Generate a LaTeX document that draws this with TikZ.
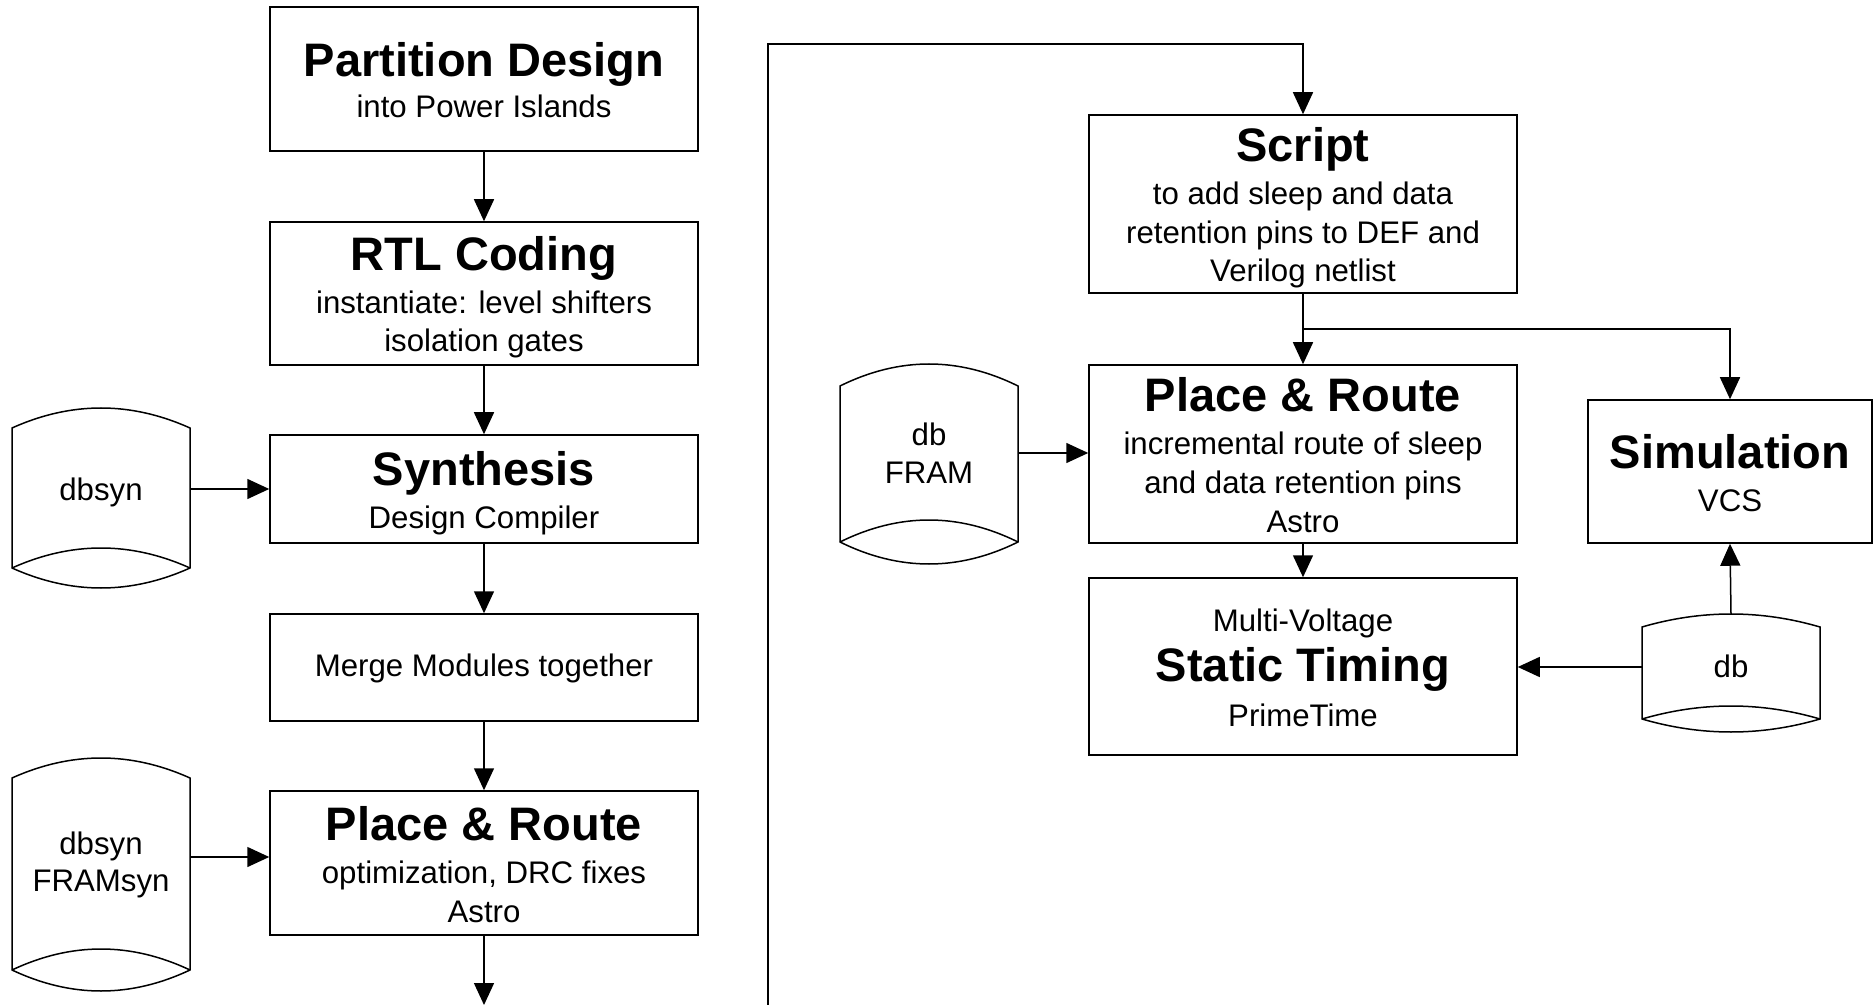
\documentclass[tikz,border=0pt]{standalone}
\usepackage{fontspec}
\setmainfont{Liberation Sans}
\usetikzlibrary{arrows.meta}

% Drum (database) outline: left, right, top peak, side top, side bottom, lens depth
\newcommand\drumpath[6]{%
  \draw[drum] (#1,#4) -- (#1,#5)
    .. controls ({#1+(#2-#1)/3},{#5+4*#6/3}) and ({#2-(#2-#1)/3},{#5+4*#6/3}) .. (#2,#5)
    -- (#2,#4)
    .. controls ({#2-(#2-#1)/3},{#4-4*(#4-#3)/3}) and ({#1+(#2-#1)/3},{#4-4*(#4-#3)/3}) .. cycle;
  \draw[drum] (#1,#5)
    .. controls ({#1+(#2-#1)/3},{#5-4*#6/3}) and ({#2-(#2-#1)/3},{#5-4*#6/3}) .. (#2,#5);}

\begin{document}
\begin{tikzpicture}[x=0.5pt,y=-0.5pt,
  box/.style={draw, line width=0.75pt, inner sep=0pt, minimum width=214pt},
  ttl/.style={anchor=base, inner sep=0pt, font=\fontsize{23.5pt}{28pt}\selectfont\bfseries},
  sub/.style={anchor=base, inner sep=0pt, font=\fontsize{15.6pt}{19pt}\selectfont},
  flow/.style={line width=0.75pt, -{Triangle[length=11pt,width=10pt]}},
  drum/.style={line width=0.75pt}]
\useasboundingbox (0,0) rectangle (1874,1005);

% ---- left column ----
\node[box, minimum height=72pt]   (part)  at (484,79)    {};
\node[ttl] (partT)  at (484,77)    {Partition Design};
\node[sub] (partS)  at (484,118)   {into Power Islands};

\node[box, minimum height=71.5pt] (rtl)   at (484,293.5) {};
\node[ttl] (rtlT)   at (484,270.5) {RTL Coding};
\node[sub] (rtlS1)  at (484,313.5) {instantiate: level shifters};
\node[sub] (rtlS2)  at (484,351.5) {isolation gates};

\node[box, minimum height=54pt]   (syn)   at (484,489)   {};
\node[ttl] (synT)   at (484,486)   {Synthesis};
\node[sub] (synS)   at (484,528)   {Design Compiler};

\node[box, minimum height=53.5pt] (merge) at (484,667.5) {};
\node[sub] (mergeS) at (484,676.5) {Merge Modules together};

\node[box, minimum height=72pt]   (pr)    at (484,863)   {};
\node[ttl] (prT)    at (484,840)   {Place \& Route};
\node[sub] (prS1)   at (484,883)   {optimization, DRC fixes};
\node[sub] (prS2)   at (484,922)   {Astro};

% ---- right column ----
\node[box, minimum height=89pt]   (script) at (1303,204) {};
\node[ttl] (scrT)   at (1303,162)  {Script};
\node[sub] (scrS1)  at (1303,205)  {to add sleep and data};
\node[sub] (scrS2)  at (1303,244)  {retention pins to DEF and};
\node[sub] (scrS3)  at (1303,282)  {Verilog netlist};

\node[box, minimum height=89pt]   (pr2)   at (1303,454)  {};
\node[ttl] (pr2T)   at (1303,412)  {Place \& Route};
\node[sub] (pr2S1)  at (1303,455)  {incremental route of sleep};
\node[sub] (pr2S2)  at (1303,494)  {and data retention pins};
\node[sub] (pr2S3)  at (1303,532)  {Astro};

\node[box, minimum height=88.5pt] (sta)   at (1303,666.5) {};
\node[sub] (staS1)  at (1303,631)  {Multi-Voltage};
\node[ttl] (staT)   at (1303,681)  {Static Timing};
\node[sub] (staS2)  at (1303,726)  {PrimeTime};

\node[box, minimum width=142pt, minimum height=71.5pt] (sim) at (1730,471.5) {};
\node[ttl] (simT)   at (1730,469)  {Simulation};
\node[sub] (simS)   at (1730,511)  {VCS};

% ---- databases ----
\drumpath{12}{190}{408}{428}{568}{20}
\node[sub] (dbsyn) at (101,501) {dbsyn};
\coordinate (dbsynR) at (190,489);

\drumpath{12}{190}{758}{778}{970}{21}
\node[sub] (dbsyn2) at (101,854) {dbsyn};
\node[sub] (framsyn) at (101,891) {FRAMsyn};
\coordinate (framsynR) at (190,857);

\drumpath{840}{1018}{364}{386}{542}{22}
\node[sub] (dbF) at (929,445) {db};
\node[sub] (fram) at (929,483) {FRAM};
\coordinate (framR) at (1018,453);

\drumpath{1642}{1820}{614}{627}{719}{13}
\node[sub] (db) at (1731,677) {db};
\coordinate (dbL) at (1642,667);
\coordinate (dbT) at (1731,614);

% ---- connectors ----
\draw[flow] (part.south) -- (rtl.north);
\draw[flow] (rtl.south) -- (syn.north);
\draw[flow] (syn.south) -- (merge.north);
\draw[flow] (merge.south) -- (pr.north);
\coordinate (prOut) at (484,1005);
\draw[flow] (pr.south) -- (prOut);

\draw[flow] (dbsynR) -- (dbsynR -| syn.west);
\draw[flow] (framsynR) -- (framsynR -| pr.west);

\coordinate (loopIn) at (768,1005);
\coordinate (loopTop) at (768,44);
\draw[flow] (loopIn) -- (loopTop) -| (script.north);

\draw[flow] (script.south) -- (pr2.north);
\coordinate (split) at (1303,329);
\draw[flow] (split) -| (sim.north);

\draw[flow] (framR) -- (framR -| pr2.west);
\draw[flow] (pr2.south) -- (sta.north);
\draw[flow] (dbL) -- (dbL -| sta.east);
\draw[flow] (dbT) -- (sim.south);
\end{tikzpicture}
\end{document}
